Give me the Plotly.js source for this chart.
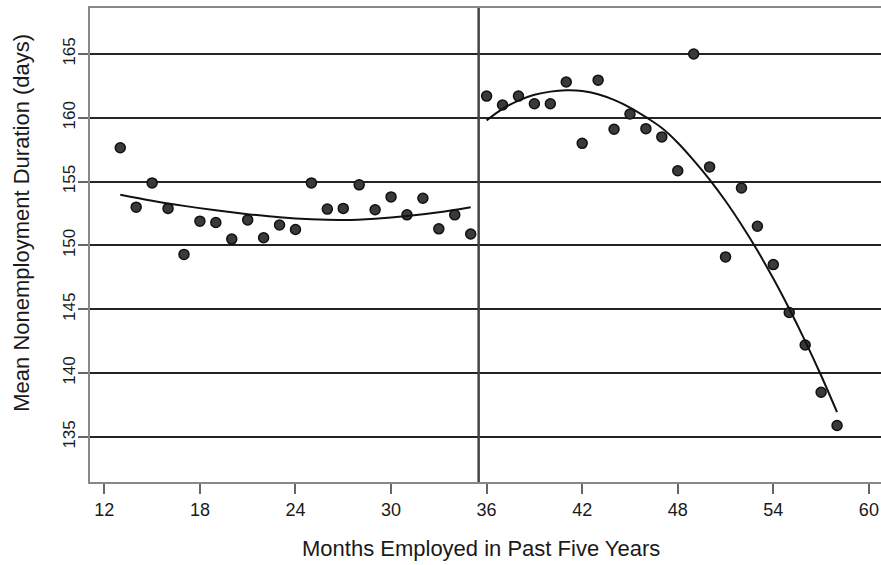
<!DOCTYPE html>
<html>
<head>
<meta charset="utf-8">
<script src="https://cdn.plot.ly/plotly-3.0.1.min.js"></script>
<style>html,body{margin:0;padding:0;background:#fff;}#chart{width:881px;height:565px;}</style>
</head>
<body>
<div id="chart"></div>
<script>
// Scatter points: months employed vs mean nonemployment duration
const monthsLeft = [13,14,15,16,17,18,19,20,21,22,23,24,25,26,27,28,29,30,31,32,33,34,35];
const durationLeft = [157.65,153.0,154.9,152.9,149.3,151.9,151.8,150.5,152.0,150.6,151.6,151.25,154.9,152.85,152.9,154.75,152.8,153.8,152.4,153.7,151.3,152.4,150.9];
const monthsRight = [36,37,38,39,40,41,42,43,44,45,46,47,48,49,50,51,52,53,54,55,56,57,58];
const durationRight = [161.7,161.0,161.7,161.1,161.1,162.8,158.0,162.95,159.1,160.3,159.15,158.5,155.85,165.0,156.15,149.1,154.5,151.5,148.5,144.75,142.2,138.5,135.9];

// Fitted curves
const fitMonthsLeft = [13,15,17,19,21,23,25,27,29,31,33,35];
const fitLeft = [153.97,153.5,153.1,152.75,152.45,152.2,152.05,152.0,152.1,152.3,152.6,153.0];
const fitMonthsRight = [36,37,38,39,40,41,42,43,44,45,46,47,48,49,50,51,52,53,54,55,56,57,58];
const fitRight = [159.8,160.7,161.35,161.8,162.05,162.15,162.1,161.85,161.4,160.8,160.05,159.2,158.05,156.67,155.16,153.48,151.62,149.6,147.41,145.04,142.51,139.81,136.94];

const xTicks = [12,18,24,30,36,42,48,54,60];
const yTicks = [135,140,145,150,155,160,165];
const cutoff = 35.5;

const FONT = '"Liberation Sans", Arial, Helvetica, sans-serif';
const marker = {size: 10, color: '#3a3a3a', line: {color: '#111', width: 1.5}};

const traces = [
  {x: monthsLeft, y: durationLeft, type: 'scatter', mode: 'markers', marker: marker, hoverinfo: 'x+y'},
  {x: monthsRight, y: durationRight, type: 'scatter', mode: 'markers', marker: marker, hoverinfo: 'x+y'},
  {x: fitMonthsLeft, y: fitLeft, type: 'scatter', mode: 'lines', line: {color: '#111', width: 2, shape: 'spline'}},
  {x: fitMonthsRight, y: fitRight, type: 'scatter', mode: 'lines', line: {color: '#111', width: 2, shape: 'spline'}}
];

const layout = {
  width: 881, height: 565,
  margin: {l: 90, r: 0, t: 8, b: 83},
  paper_bgcolor: '#fff', plot_bgcolor: '#fff',
  showlegend: false,
  font: {family: FONT, color: '#1a1a1a'},
  xaxis: {
    range: [11.1, 60.76], tickvals: xTicks, ticktext: xTicks.map(String),
    ticks: 'outside', ticklen: 10, tickwidth: 2, tickcolor: '#666',
    showline: true, linecolor: '#888', linewidth: 2, mirror: true,
    showgrid: false, zeroline: false,
    tickfont: {family: FONT, size: 18, color: '#1a1a1a'}
  },
  yaxis: {
    range: [131.47, 168.6], tickvals: yTicks, ticktext: yTicks.map(String),
    ticks: 'outside', ticklen: 10, tickwidth: 2, tickcolor: '#666', tickangle: -90,
    ticklabelstandoff: -4,
    showline: true, linecolor: '#888', linewidth: 2, mirror: false,
    showgrid: true, gridcolor: '#242424', gridwidth: 2, zeroline: false,
    tickfont: {family: FONT, size: 17, color: '#1a1a1a'}
  },
  shapes: [
    {type: 'line', xref: 'x', yref: 'paper', x0: cutoff, x1: cutoff, y0: 0, y1: 1,
     line: {color: '#444', width: 2.5}}
  ],
  annotations: [
    {text: 'Months Employed in Past Five Years', xref: 'paper', yref: 'paper',
     x: 0.494, y: 0, xanchor: 'center', yanchor: 'middle', yshift: -66, showarrow: false,
     font: {family: FONT, size: 22, color: '#1a1a1a'}},
    {text: 'Mean Nonemployment Duration (days)', xref: 'paper', yref: 'paper',
     x: 0, y: 0.547, xanchor: 'center', yanchor: 'middle', xshift: -68, textangle: -90, showarrow: false,
     font: {family: FONT, size: 22, color: '#1a1a1a'}}
  ]
};

Plotly.newPlot('chart', traces, layout, {displayModeBar: false, staticPlot: true});
</script>
</body>
</html>
